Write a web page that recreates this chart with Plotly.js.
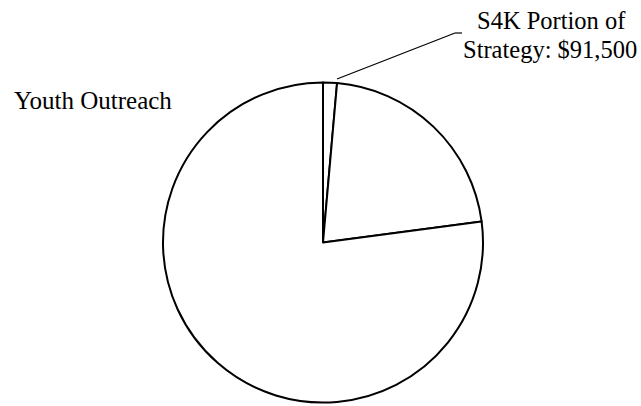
<!DOCTYPE html>
<html>
<head>
<meta charset="utf-8">
<script src="https://cdn.plot.ly/plotly-3.0.1.min.js"></script>
<style>html,body{margin:0;padding:0;background:#fff;}#chart{width:641px;height:406px;}</style>
</head>
<body>
<div id="chart"></div>
<script>
// Slice shares (percent of the Youth Outreach strategy)
const sliceLabels = ["S4K Portion of Strategy", "Other part A", "Other part B"];
const sliceValues = [1.4, 21.5, 77.1];
const titleText = "Youth Outreach";
const calloutLine1 = "S4K Portion of";
const calloutLine2 = "Strategy: $91,500";

const W = 641, H = 406;
const px = x => x / W;
const py = y => 1 - y / H;

const trace = {
  type: "pie",
  labels: sliceLabels,
  values: sliceValues,
  sort: false,
  direction: "clockwise",
  rotation: 0,
  textinfo: "none",
  hoverinfo: "label+percent",
  marker: {colors: ["#ffffff", "#ffffff", "#ffffff"], line: {color: "#000000", width: 2}},
  domain: {x: [px(163), px(483)], y: [py(403), py(82)]},
  showlegend: false
};

const fontA = {family: "Liberation Serif, Times New Roman, serif", size: 25, color: "#000"};
const fontB = {family: "Liberation Serif, Times New Roman, serif", size: 24.5, color: "#000"};

const layout = {
  width: W, height: H,
  margin: {l: 0, r: 0, t: 0, b: 0},
  paper_bgcolor: "#fff",
  plot_bgcolor: "#fff",
  showlegend: false,
  annotations: [
    {text: titleText, xref: "paper", yref: "paper", x: px(12), y: py(101), xanchor: "left", yanchor: "middle", showarrow: false, font: fontA},
    {text: calloutLine1, xref: "paper", yref: "paper", x: px(551), y: py(20), xanchor: "center", yanchor: "middle", showarrow: false, font: fontB},
    {text: calloutLine2, xref: "paper", yref: "paper", x: px(550), y: py(50), xanchor: "center", yanchor: "middle", showarrow: false, font: fontB}
  ],
  shapes: [
    {type: "line", xref: "paper", yref: "paper", x0: px(337), y0: py(79), x1: px(455), y1: py(33), line: {color: "#000", width: 1.2}},
    {type: "line", xref: "paper", yref: "paper", x0: px(455), y0: py(33), x1: px(462), y1: py(33), line: {color: "#000", width: 1.2}}
  ]
};

Plotly.newPlot("chart", [trace], layout, {displayModeBar: false, staticPlot: true});
</script>
</body>
</html>
